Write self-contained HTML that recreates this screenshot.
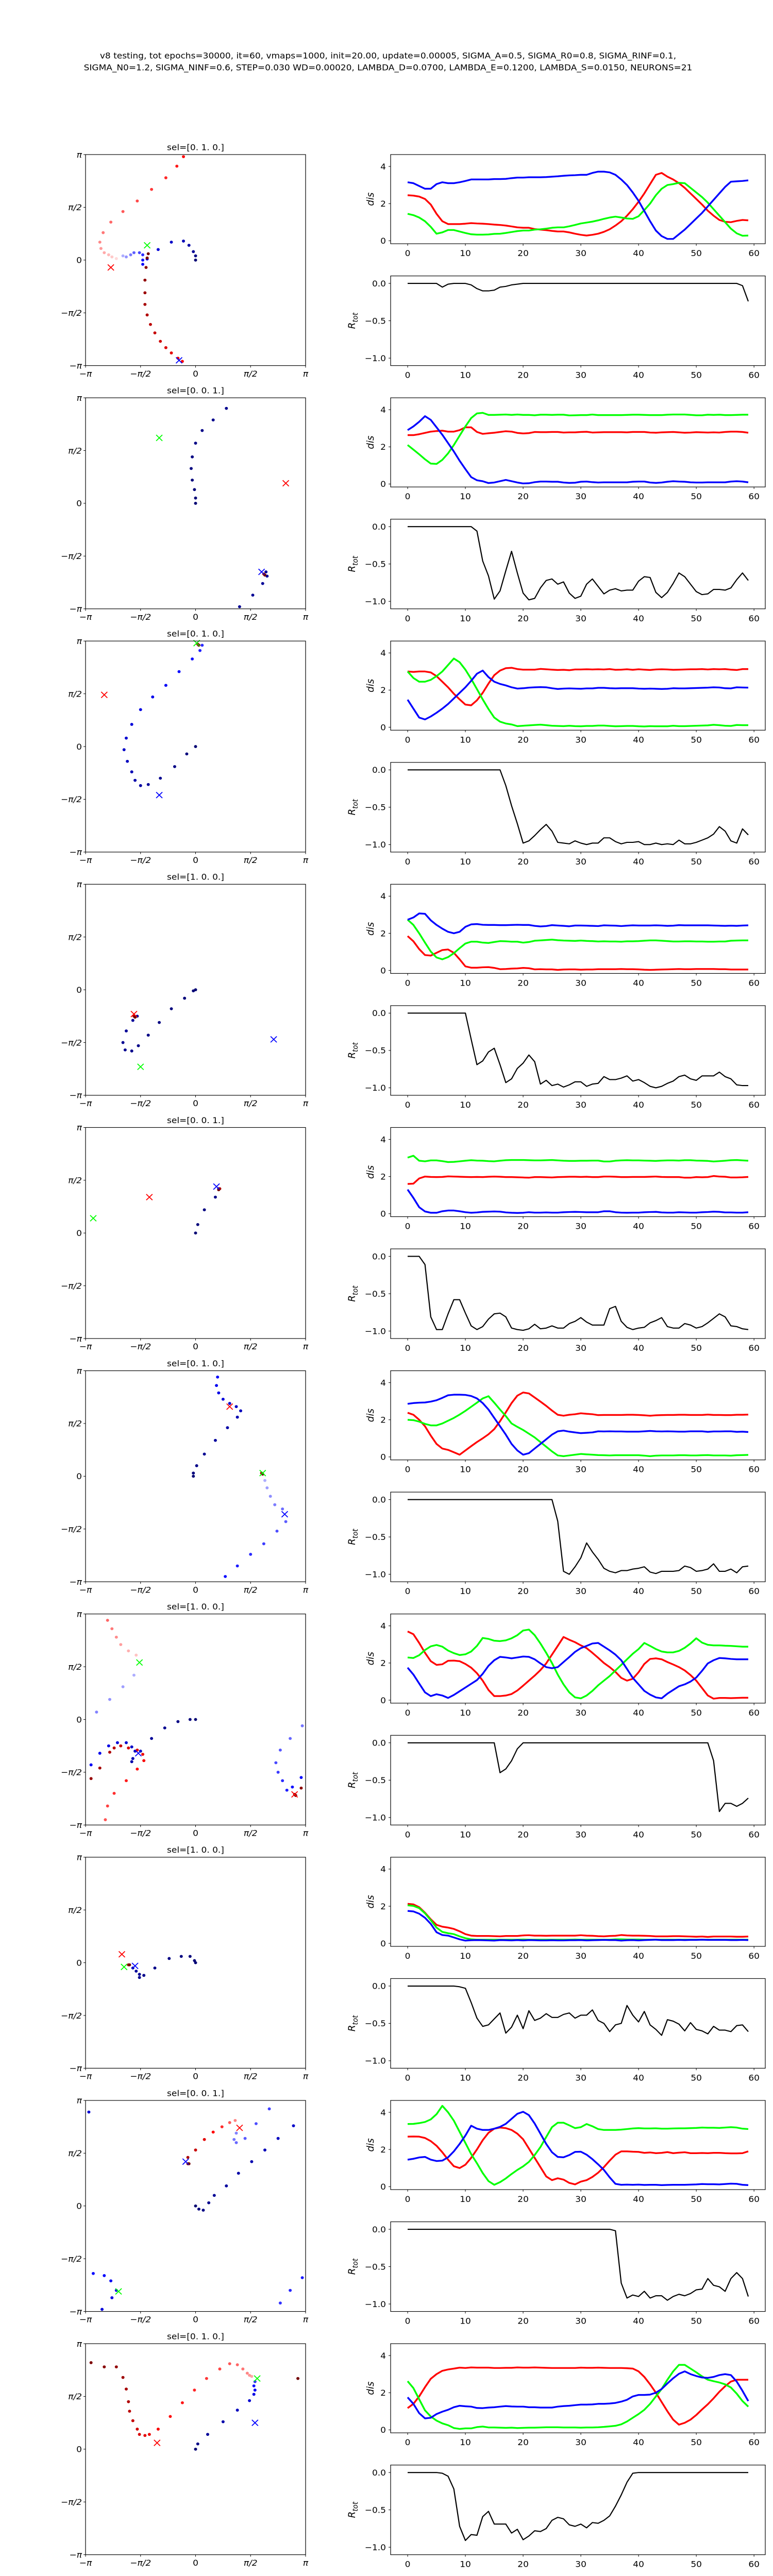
<!DOCTYPE html>
<html><head><meta charset="utf-8"><style>
html,body{margin:0;padding:0;background:#fff;width:100%;height:100%;overflow:hidden;}
svg{display:block;position:fixed;left:0;top:0;width:100%;height:100%;font-family:"DejaVu Sans","Liberation Sans",sans-serif;}
</style></head><body>
<svg id="fig" xmlns="http://www.w3.org/2000/svg" viewBox="0 0 1500 5200" preserveAspectRatio="none">
<rect width="1500" height="5200" fill="#fff"/>
<text x="753" y="118" font-size="17" text-anchor="middle">v8 testing, tot epochs=30000, it=60, vmaps=1000, init=20.00, update=0.00005, SIGMA_A=0.5, SIGMA_R0=0.8, SIGMA_RINF=0.1,</text>
<text x="753" y="142" font-size="17" text-anchor="middle">SIGMA_N0=1.2, SIGMA_NINF=0.6, STEP=0.030 WD=0.00020, LAMBDA_D=0.0700, LAMBDA_E=0.1200, LAMBDA_S=0.0150, NEURONS=21</text>
</svg>
<script>
const selTitles = ["sel=[0. 1. 0.]","sel=[0. 0. 1.]","sel=[0. 1. 0.]","sel=[1. 0. 0.]","sel=[0. 0. 1.]","sel=[0. 1. 0.]","sel=[1. 0. 0.]","sel=[1. 0. 0.]","sel=[0. 0. 1.]","sel=[0. 1. 0.]"];
const xTicks = [0,10,20,30,40,50,60];
const disTicks = [0,2,4];
const rTicks = [0.0,-0.5,-1.0];
const rTickLabels = ["0.0","\u22120.5","\u22121.0"];
const piTicks = [-1,-0.5,0,0.5,1];
const piTickLabels = ["\u2212\u03c0","\u2212\u03c0/2","0","\u03c0/2","\u03c0"];

const disRed = [
[2.45,2.43,2.38,2.25,1.95,1.45,1.05,0.9,0.9,0.9,0.92,0.95,0.93,0.92,0.9,0.87,0.85,0.82,0.77,0.72,0.7,0.7,0.63,0.6,0.57,0.53,0.5,0.5,0.45,0.38,0.32,0.28,0.32,0.38,0.48,0.62,0.82,1.05,1.35,1.7,2.1,2.55,3.05,3.55,3.65,3.45,3.3,3.1,2.85,2.55,2.25,1.95,1.62,1.35,1.12,1.02,1.0,1.07,1.12,1.1],
[2.63,2.63,2.68,2.75,2.82,2.85,2.87,2.82,2.82,2.9,3.05,3.05,2.8,2.7,2.73,2.76,2.8,2.84,2.82,2.75,2.72,2.74,2.8,2.79,2.79,2.8,2.8,2.77,2.78,2.78,2.8,2.81,2.77,2.78,2.79,2.79,2.79,2.79,2.78,2.8,2.8,2.8,2.77,2.76,2.78,2.79,2.8,2.78,2.76,2.77,2.79,2.78,2.77,2.78,2.77,2.8,2.82,2.82,2.8,2.76],
[3.0,2.98,3.0,3.0,2.95,2.75,2.45,2.15,1.8,1.5,1.22,1.18,1.45,1.85,2.35,2.8,3.05,3.18,3.2,3.13,3.1,3.1,3.1,3.14,3.12,3.1,3.08,3.09,3.07,3.11,3.11,3.12,3.11,3.12,3.11,3.13,3.09,3.1,3.12,3.09,3.12,3.1,3.08,3.11,3.12,3.11,3.09,3.1,3.11,3.12,3.12,3.13,3.11,3.13,3.12,3.13,3.1,3.08,3.13,3.13],
[1.85,1.57,1.15,0.83,0.8,0.95,1.1,1.13,0.95,0.6,0.22,0.15,0.15,0.17,0.18,0.14,0.07,0.08,0.1,0.11,0.14,0.12,0.06,0.07,0.06,0.06,0.03,0.05,0.06,0.06,0.04,0.05,0.05,0.07,0.07,0.07,0.07,0.08,0.07,0.07,0.06,0.04,0.03,0.04,0.05,0.06,0.07,0.08,0.07,0.07,0.08,0.08,0.08,0.08,0.07,0.07,0.05,0.05,0.05,0.05],
[1.6,1.62,1.9,2.0,1.98,1.97,1.98,2.01,2.0,1.99,1.98,1.97,1.98,1.97,1.99,2.0,1.99,1.97,1.97,1.96,1.95,1.94,1.97,1.97,1.96,1.95,1.97,1.98,1.99,1.99,1.98,1.99,1.97,1.97,2.0,2.0,1.99,1.97,1.97,1.98,1.98,1.98,1.99,2.0,1.98,1.97,1.97,1.97,1.94,1.94,1.97,1.96,1.97,2.03,2.0,1.99,1.95,1.95,1.96,1.98],
[2.38,2.27,2.0,1.65,1.15,0.7,0.45,0.38,0.25,0.12,0.35,0.58,0.8,1.0,1.22,1.5,1.92,2.4,2.9,3.3,3.47,3.42,3.2,2.98,2.75,2.5,2.27,2.22,2.27,2.3,2.35,2.32,2.3,2.25,2.26,2.26,2.26,2.26,2.27,2.27,2.26,2.24,2.22,2.24,2.25,2.26,2.26,2.27,2.27,2.26,2.26,2.26,2.28,2.26,2.26,2.25,2.25,2.27,2.27,2.28],
[3.7,3.55,3.08,2.55,2.1,1.9,1.93,2.12,2.13,2.1,1.95,1.75,1.45,1.05,0.55,0.22,0.22,0.25,0.33,0.52,0.78,1.05,1.32,1.62,1.98,2.45,2.92,3.4,3.25,3.12,2.95,2.8,2.55,2.28,2.0,1.78,1.52,1.2,1.05,1.15,1.5,1.95,2.22,2.25,2.2,2.05,1.92,1.78,1.6,1.35,1.05,0.65,0.25,0.08,0.12,0.12,0.11,0.12,0.13,0.13],
[2.13,2.1,1.95,1.65,1.3,1.0,0.9,0.85,0.78,0.65,0.5,0.42,0.4,0.4,0.4,0.39,0.38,0.4,0.4,0.4,0.43,0.44,0.42,0.42,0.41,0.42,0.42,0.42,0.42,0.42,0.44,0.42,0.41,0.39,0.38,0.4,0.41,0.45,0.43,0.42,0.42,0.41,0.4,0.38,0.38,0.38,0.39,0.39,0.38,0.37,0.36,0.37,0.35,0.37,0.37,0.37,0.37,0.36,0.36,0.37],
[2.69,2.7,2.69,2.62,2.45,2.2,1.85,1.45,1.1,1.0,1.18,1.55,2.0,2.5,2.9,3.12,3.18,3.15,3.05,2.85,2.55,2.05,1.55,1.05,0.55,0.35,0.45,0.38,0.2,0.12,0.27,0.35,0.52,0.75,1.05,1.4,1.72,1.9,1.9,1.88,1.87,1.82,1.84,1.8,1.82,1.86,1.8,1.83,1.85,1.8,1.8,1.81,1.8,1.82,1.82,1.8,1.79,1.79,1.8,1.9],
[1.17,1.4,1.8,2.3,2.75,3.0,3.18,3.25,3.3,3.35,3.33,3.36,3.35,3.35,3.35,3.33,3.33,3.34,3.34,3.36,3.35,3.35,3.36,3.35,3.34,3.33,3.33,3.33,3.33,3.33,3.35,3.34,3.34,3.35,3.34,3.33,3.33,3.33,3.32,3.3,3.15,2.85,2.45,2.0,1.5,1.0,0.55,0.28,0.38,0.55,0.8,1.1,1.38,1.7,2.05,2.35,2.6,2.7,2.7,2.7]
];
const disGreen = [
[1.45,1.38,1.25,1.05,0.75,0.38,0.45,0.58,0.58,0.5,0.42,0.35,0.33,0.33,0.34,0.37,0.38,0.42,0.47,0.52,0.55,0.55,0.6,0.62,0.65,0.7,0.72,0.72,0.78,0.85,0.93,0.98,1.03,1.1,1.18,1.25,1.3,1.25,1.2,1.18,1.32,1.65,2.0,2.45,2.8,3.0,3.05,3.12,3.1,2.85,2.6,2.35,2.05,1.7,1.35,1.0,0.65,0.4,0.27,0.28],
[2.1,1.85,1.6,1.33,1.1,1.08,1.3,1.65,2.1,2.6,3.1,3.55,3.8,3.83,3.72,3.72,3.73,3.74,3.72,3.74,3.72,3.72,3.7,3.73,3.73,3.72,3.73,3.73,3.69,3.7,3.71,3.71,3.74,3.71,3.71,3.71,3.71,3.71,3.72,3.73,3.73,3.72,3.71,3.71,3.71,3.73,3.74,3.74,3.74,3.72,3.7,3.7,3.73,3.72,3.73,3.71,3.71,3.72,3.73,3.73],
[3.0,2.65,2.45,2.45,2.55,2.75,3.0,3.35,3.7,3.5,3.1,2.6,2.05,1.5,0.98,0.52,0.3,0.2,0.15,0.06,0.08,0.1,0.12,0.14,0.11,0.08,0.07,0.06,0.08,0.06,0.05,0.07,0.07,0.09,0.09,0.07,0.05,0.06,0.07,0.07,0.05,0.04,0.06,0.05,0.05,0.05,0.08,0.06,0.06,0.07,0.08,0.09,0.1,0.13,0.11,0.08,0.07,0.12,0.11,0.11],
[2.73,2.45,2.0,1.5,1.02,0.7,0.6,0.72,0.93,1.2,1.45,1.55,1.55,1.5,1.48,1.53,1.58,1.57,1.55,1.55,1.5,1.53,1.6,1.62,1.64,1.66,1.63,1.61,1.6,1.59,1.61,1.59,1.58,1.56,1.57,1.56,1.56,1.55,1.57,1.57,1.58,1.6,1.62,1.62,1.6,1.58,1.56,1.56,1.57,1.57,1.56,1.56,1.55,1.55,1.56,1.56,1.6,1.61,1.62,1.62],
[3.02,3.12,2.85,2.82,2.87,2.87,2.83,2.78,2.79,2.82,2.85,2.88,2.86,2.85,2.83,2.82,2.85,2.88,2.89,2.89,2.89,2.88,2.87,2.87,2.88,2.89,2.87,2.85,2.84,2.84,2.85,2.85,2.86,2.86,2.81,2.81,2.85,2.87,2.88,2.87,2.87,2.86,2.85,2.84,2.86,2.87,2.87,2.86,2.88,2.88,2.86,2.85,2.84,2.81,2.83,2.85,2.88,2.89,2.87,2.85],
[2.0,1.98,1.9,1.78,1.7,1.7,1.8,1.95,2.1,2.28,2.48,2.7,2.92,3.15,3.27,2.92,2.55,2.2,1.8,1.62,1.45,1.25,1.05,0.8,0.55,0.3,0.08,0.04,0.08,0.12,0.16,0.14,0.12,0.1,0.09,0.08,0.09,0.09,0.09,0.09,0.09,0.07,0.04,0.07,0.08,0.08,0.08,0.09,0.09,0.08,0.08,0.09,0.1,0.08,0.08,0.08,0.07,0.09,0.1,0.11],
[2.3,2.27,2.42,2.7,2.9,2.97,2.88,2.67,2.53,2.43,2.47,2.62,2.92,3.35,3.3,3.2,3.18,3.22,3.33,3.5,3.75,3.8,3.5,3.05,2.55,2.0,1.38,0.85,0.42,0.15,0.1,0.25,0.5,0.8,1.05,1.3,1.6,1.9,2.2,2.5,2.75,3.08,2.92,2.75,2.62,2.57,2.57,2.65,2.82,3.05,3.33,3.1,2.98,2.95,2.95,2.93,2.92,2.9,2.88,2.88],
[2.05,2.02,1.9,1.62,1.25,0.85,0.62,0.55,0.5,0.38,0.28,0.22,0.2,0.2,0.2,0.2,0.2,0.2,0.2,0.2,0.21,0.2,0.2,0.2,0.2,0.2,0.2,0.2,0.2,0.21,0.2,0.2,0.2,0.2,0.2,0.2,0.22,0.22,0.21,0.21,0.21,0.2,0.2,0.2,0.2,0.2,0.2,0.2,0.2,0.2,0.2,0.2,0.2,0.2,0.2,0.2,0.2,0.2,0.2,0.2],
[3.37,3.38,3.42,3.48,3.62,3.9,4.35,4.0,3.55,2.95,2.35,1.75,1.26,0.73,0.3,0.1,0.24,0.44,0.68,0.9,1.09,1.33,1.7,2.13,2.67,3.2,3.44,3.44,3.3,3.15,3.2,3.37,3.25,3.1,3.05,3.05,3.05,3.07,3.1,3.13,3.15,3.13,3.13,3.14,3.12,3.12,3.13,3.14,3.14,3.15,3.16,3.18,3.17,3.17,3.16,3.18,3.2,3.18,3.12,3.1],
[2.62,2.25,1.65,1.05,0.72,0.5,0.35,0.25,0.1,0.05,0.08,0.08,0.15,0.18,0.13,0.13,0.12,0.11,0.12,0.1,0.11,0.12,0.12,0.13,0.14,0.14,0.14,0.13,0.13,0.13,0.12,0.13,0.13,0.14,0.16,0.19,0.22,0.3,0.45,0.65,0.85,1.08,1.4,1.8,2.2,2.7,3.15,3.5,3.5,3.3,3.1,2.88,2.7,2.62,2.55,2.45,2.28,1.95,1.55,1.25]
];
const disBlue = [
[3.15,3.1,2.95,2.8,2.8,3.05,3.15,3.1,3.1,3.15,3.22,3.3,3.3,3.3,3.3,3.32,3.32,3.33,3.37,3.4,3.4,3.42,3.42,3.42,3.43,3.45,3.47,3.5,3.52,3.53,3.55,3.55,3.65,3.72,3.72,3.68,3.55,3.3,3.0,2.6,2.15,1.6,1.05,0.55,0.25,0.1,0.1,0.35,0.6,0.9,1.2,1.5,1.85,2.2,2.55,2.9,3.18,3.2,3.22,3.25],
[2.9,3.1,3.35,3.65,3.45,3.05,2.65,2.2,1.75,1.25,0.8,0.37,0.2,0.15,0.05,0.08,0.15,0.22,0.15,0.08,0.03,0.04,0.1,0.13,0.13,0.12,0.12,0.08,0.06,0.07,0.12,0.13,0.1,0.08,0.09,0.09,0.09,0.09,0.09,0.12,0.13,0.13,0.08,0.06,0.08,0.12,0.15,0.13,0.12,0.09,0.08,0.08,0.09,0.09,0.09,0.09,0.13,0.15,0.13,0.09],
[1.48,1.0,0.52,0.42,0.58,0.78,1.0,1.25,1.55,1.85,2.15,2.5,2.88,3.05,2.7,2.45,2.33,2.25,2.15,2.08,2.1,2.13,2.15,2.16,2.15,2.1,2.06,2.08,2.09,2.08,2.07,2.09,2.09,2.12,2.12,2.1,2.09,2.1,2.1,2.1,2.08,2.07,2.08,2.07,2.06,2.07,2.1,2.09,2.09,2.1,2.11,2.12,2.13,2.15,2.14,2.1,2.09,2.15,2.14,2.13],
[2.73,2.85,3.07,3.05,2.7,2.45,2.25,2.08,2.0,2.08,2.35,2.48,2.5,2.46,2.45,2.45,2.44,2.44,2.45,2.46,2.45,2.45,2.4,2.37,2.39,2.44,2.42,2.4,2.38,2.42,2.42,2.41,2.4,2.39,2.43,2.42,2.41,2.39,2.41,2.43,2.42,2.42,2.42,2.43,2.42,2.4,2.41,2.44,2.43,2.43,2.43,2.43,2.43,2.42,2.41,2.4,2.41,2.4,2.42,2.43],
[1.3,0.85,0.35,0.12,0.05,0.05,0.13,0.17,0.17,0.13,0.08,0.05,0.07,0.1,0.11,0.12,0.11,0.07,0.05,0.04,0.05,0.08,0.06,0.06,0.07,0.06,0.06,0.08,0.09,0.1,0.09,0.08,0.08,0.08,0.13,0.13,0.08,0.06,0.05,0.06,0.06,0.08,0.09,0.1,0.07,0.06,0.06,0.08,0.07,0.06,0.06,0.08,0.09,0.11,0.1,0.07,0.07,0.06,0.06,0.08],
[2.86,2.9,2.92,2.93,2.98,3.05,3.18,3.32,3.35,3.35,3.34,3.28,3.15,2.9,2.55,2.1,1.65,1.2,0.7,0.35,0.12,0.2,0.45,0.7,0.95,1.2,1.38,1.42,1.36,1.32,1.28,1.3,1.32,1.38,1.37,1.38,1.37,1.37,1.36,1.36,1.36,1.38,1.4,1.38,1.37,1.38,1.37,1.36,1.36,1.38,1.38,1.38,1.35,1.37,1.37,1.38,1.38,1.35,1.36,1.34],
[1.75,1.38,0.9,0.42,0.22,0.32,0.25,0.12,0.28,0.48,0.68,0.88,1.08,1.42,1.85,2.15,2.33,2.3,2.25,2.3,2.35,2.33,2.2,1.98,1.78,1.72,1.78,2.05,2.32,2.6,2.8,2.92,3.05,3.08,2.88,2.68,2.45,2.15,1.68,1.2,0.85,0.5,0.3,0.15,0.1,0.35,0.55,0.75,0.85,1.0,1.22,1.58,1.98,2.15,2.27,2.25,2.22,2.2,2.2,2.2],
[1.75,1.72,1.6,1.38,1.05,0.6,0.45,0.42,0.32,0.22,0.15,0.17,0.18,0.17,0.16,0.15,0.18,0.17,0.16,0.18,0.16,0.18,0.17,0.16,0.16,0.17,0.16,0.16,0.17,0.17,0.18,0.16,0.17,0.18,0.19,0.18,0.18,0.15,0.17,0.18,0.16,0.18,0.19,0.2,0.18,0.18,0.18,0.19,0.18,0.19,0.19,0.2,0.19,0.19,0.19,0.19,0.18,0.18,0.19,0.18],
[1.45,1.5,1.57,1.6,1.45,1.38,1.4,1.58,1.9,2.3,2.75,3.28,3.12,3.05,3.05,3.12,3.22,3.38,3.65,3.92,4.03,3.85,3.4,2.85,2.3,1.85,1.6,1.58,1.7,1.87,1.88,1.72,1.48,1.2,0.9,0.5,0.15,0.1,0.11,0.1,0.11,0.09,0.1,0.1,0.08,0.09,0.1,0.1,0.1,0.11,0.12,0.14,0.13,0.13,0.12,0.14,0.16,0.15,0.1,0.08],
[1.75,1.4,0.9,0.62,0.65,0.85,0.98,1.08,1.22,1.3,1.27,1.25,1.18,1.17,1.2,1.22,1.25,1.28,1.26,1.25,1.25,1.22,1.22,1.2,1.2,1.2,1.25,1.28,1.3,1.33,1.36,1.36,1.37,1.4,1.4,1.42,1.45,1.52,1.62,1.8,1.88,1.88,1.9,2.0,2.2,2.5,2.78,3.02,3.15,3.0,2.9,2.82,2.8,2.85,2.95,3.0,2.95,2.6,2.1,1.55]
];
const rTot = [
[0,0,0,0,0,0,-0.05,-0.01,0,0,0,-0.02,-0.07,-0.1,-0.1,-0.09,-0.05,-0.04,-0.02,-0.01,0,0,0,0,0,0,0,0,0,0,0,0,0,0,0,0,0,0,0,0,0,0,0,0,0,0,0,0,0,0,0,0,0,0,0,0,0,0,-0.03,-0.24],
[0,0,0,0,0,0,0,0,0,0,0,0,-0.06,-0.46,-0.66,-0.97,-0.86,-0.59,-0.33,-0.62,-0.89,-0.98,-0.96,-0.82,-0.72,-0.70,-0.77,-0.74,-0.89,-0.96,-0.93,-0.77,-0.70,-0.80,-0.90,-0.85,-0.83,-0.86,-0.85,-0.85,-0.73,-0.67,-0.68,-0.88,-0.95,-0.88,-0.76,-0.62,-0.67,-0.77,-0.87,-0.91,-0.90,-0.84,-0.84,-0.85,-0.82,-0.71,-0.62,-0.72],
[0,0,0,0,0,0,0,0,0,0,0,0,0,0,0,0,0,-0.21,-0.48,-0.72,-0.98,-0.95,-0.88,-0.8,-0.73,-0.82,-0.97,-0.98,-0.99,-0.95,-0.98,-1.0,-0.98,-0.98,-0.91,-0.91,-0.96,-0.99,-0.97,-0.97,-0.96,-1.0,-1.0,-0.98,-1.0,-0.99,-1.0,-0.94,-0.99,-0.99,-0.97,-0.94,-0.91,-0.86,-0.76,-0.82,-0.95,-0.98,-0.79,-0.87],
[0,0,0,0,0,0,0,0,0,0,0,-0.35,-0.69,-0.64,-0.52,-0.47,-0.69,-0.93,-0.88,-0.74,-0.67,-0.56,-0.65,-0.95,-0.9,-0.97,-0.95,-0.99,-0.96,-0.92,-0.92,-0.98,-0.95,-0.94,-0.85,-0.89,-0.89,-0.87,-0.84,-0.91,-0.89,-0.93,-0.98,-1.0,-0.98,-0.94,-0.91,-0.85,-0.83,-0.88,-0.9,-0.84,-0.84,-0.84,-0.79,-0.85,-0.88,-0.96,-0.97,-0.97],
[0,0,0,-0.11,-0.81,-0.98,-0.98,-0.77,-0.58,-0.58,-0.76,-0.93,-0.98,-0.94,-0.84,-0.77,-0.76,-0.81,-0.96,-0.98,-0.99,-0.97,-0.91,-0.97,-0.96,-0.93,-0.96,-0.96,-0.90,-0.87,-0.82,-0.88,-0.92,-0.92,-0.92,-0.70,-0.67,-0.87,-0.95,-0.98,-0.96,-0.95,-0.89,-0.86,-0.82,-0.94,-0.96,-0.96,-0.90,-0.92,-0.96,-0.94,-0.89,-0.83,-0.77,-0.81,-0.93,-0.94,-0.97,-0.98],
[0,0,0,0,0,0,0,0,0,0,0,0,0,0,0,0,0,0,0,0,0,0,0,0,0,0,-0.29,-0.96,-1.0,-0.9,-0.78,-0.58,-0.7,-0.8,-0.92,-0.96,-0.98,-0.95,-0.95,-0.93,-0.92,-0.9,-0.97,-0.99,-0.96,-0.96,-0.96,-0.95,-0.89,-0.91,-0.96,-0.95,-0.93,-0.86,-0.96,-0.96,-0.93,-0.98,-0.9,-0.89],
[0,0,0,0,0,0,0,0,0,0,0,0,0,0,0,0,-0.4,-0.35,-0.24,-0.08,0,0,0,0,0,0,0,0,0,0,0,0,0,0,0,0,0,0,0,0,0,0,0,0,0,0,0,0,0,0,0,0,0,-0.24,-0.92,-0.81,-0.81,-0.85,-0.81,-0.74],
[0,0,0,0,0,0,0,0,0,-0.01,-0.03,-0.22,-0.43,-0.54,-0.52,-0.44,-0.36,-0.63,-0.55,-0.39,-0.57,-0.33,-0.46,-0.43,-0.37,-0.42,-0.42,-0.38,-0.36,-0.43,-0.39,-0.39,-0.32,-0.46,-0.5,-0.61,-0.52,-0.5,-0.26,-0.39,-0.48,-0.34,-0.52,-0.58,-0.66,-0.45,-0.47,-0.51,-0.6,-0.49,-0.58,-0.6,-0.64,-0.54,-0.59,-0.59,-0.61,-0.53,-0.52,-0.61],
[0,0,0,0,0,0,0,0,0,0,0,0,0,0,0,0,0,0,0,0,0,0,0,0,0,0,0,0,0,0,0,0,0,0,0,0,-0.02,-0.72,-0.92,-0.88,-0.9,-0.83,-0.92,-0.89,-0.89,-0.95,-0.9,-0.87,-0.89,-0.86,-0.81,-0.8,-0.66,-0.75,-0.77,-0.83,-0.66,-0.58,-0.66,-0.9],
[0,0,0,0,0,0,-0.01,-0.05,-0.22,-0.72,-0.91,-0.83,-0.84,-0.59,-0.52,-0.69,-0.69,-0.69,-0.81,-0.76,-0.9,-0.85,-0.78,-0.79,-0.75,-0.64,-0.6,-0.62,-0.7,-0.72,-0.69,-0.74,-0.67,-0.68,-0.64,-0.58,-0.45,-0.3,-0.13,-0.01,0,0,0,0,0,0,0,0,0,0,0,0,0,0,0,0,0,0,0,0]
];
const scatRedX = [
[-0.72,-0.76,-0.79,-0.83,-0.86,-0.87,-0.84,-0.77,-0.66,-0.53,-0.40,-0.27,-0.17,-0.11,-0.12,-0.16,-0.22,-0.27,-0.32,-0.37,-0.41,-0.44,-0.46,-0.46,-0.46,-0.45,-0.44,-0.43],
[0.62,0.63],
[0.02,0.03],
[-0.56,-0.55],
[0.22,0.21],
[0.60,0.61],
[-0.54,-0.61,-0.68,-0.72,-0.76,-0.80,-0.82,-0.80,-0.74,-0.63,-0.53,-0.47,-0.48,-0.53,-0.61,-0.68,-0.74,-0.78,-0.87,-0.95,0.96,0.91,0.90],
[-0.61,-0.60],
[0.36,0.31,0.24,0.16,0.08,0.0,-0.07,-0.07,-0.06],
[0.51,0.49,0.47,0.43,0.38,0.31,0.22,0.10,-0.01,-0.12,-0.23,-0.34,-0.42,-0.46,-0.51,-0.53,-0.57,-0.60,-0.61,-0.63,-0.66,-0.72,-0.83,-0.95,0.93]
];
const scatRedY = [
[0.014,0.03,0.05,0.07,0.11,0.17,0.26,0.36,0.46,0.56,0.67,0.78,0.89,0.98,-0.96,-0.93,-0.88,-0.83,-0.77,-0.69,-0.61,-0.52,-0.42,-0.31,-0.19,-0.07,0.02,0.06],
[-0.67,-0.68],
[0.97,0.96],
[-0.25,-0.26],
[0.42,0.41],
[0.03,0.02],
[0.61,0.65,0.71,0.78,0.86,0.94,-0.95,-0.82,-0.70,-0.58,-0.47,-0.39,-0.33,-0.29,-0.27,-0.25,-0.27,-0.31,-0.46,-0.56,-0.65,-0.72,-0.71],
[-0.02,-0.02],
[0.81,0.79,0.75,0.70,0.63,0.53,0.46,0.40,0.40],
[0.69,0.70,0.72,0.76,0.80,0.81,0.76,0.67,0.56,0.44,0.31,0.19,0.14,0.13,0.14,0.19,0.27,0.36,0.45,0.57,0.68,0.78,0.78,0.82,0.67,0.54]
];
const scatBlueX = [
[-0.66,-0.63,-0.59,-0.56,-0.51,-0.48,-0.48,-0.48,-0.44,-0.34,-0.22,-0.11,-0.06,-0.02,0.0,0.0],
[0.65,0.64,0.61,0.52,0.40,0.28,0.16,0.06,0.0,-0.03,-0.04,-0.03,-0.01,0.0,0.0],
[0.06,0.04,-0.03,-0.15,-0.27,-0.39,-0.50,-0.58,-0.63,-0.65,-0.62,-0.58,-0.55,-0.50,-0.43,-0.32,-0.19,-0.08,0.0],
[-0.53,-0.57,-0.63,-0.66,-0.64,-0.58,-0.52,-0.43,-0.33,-0.22,-0.10,-0.02,0.0],
[0.21,0.18,0.08,0.02,0.0],
[0.63,0.65,0.68,0.72,0.79,0.82,0.74,0.62,0.50,0.38,0.27,0.20,0.19,0.21,0.25,0.31,0.37,0.41,0.38,0.29,0.18,0.08,0.01,-0.02,-0.02],
[-0.56,-0.66,-0.78,-0.90,0.97,0.86,0.77,0.73,0.75,0.79,0.83,0.88,0.96,-0.95,-0.87,-0.79,-0.71,-0.63,-0.58,-0.55,-0.57,-0.58,-0.50,-0.40,-0.28,-0.16,-0.05,0.0],
[-0.57,-0.54,-0.51,-0.51,-0.47,-0.37,-0.24,-0.13,-0.05,-0.01,0.0],
[0.37,0.35,0.37,0.45,0.55,0.67,0.77,0.86,0.97,-0.93,-0.83,-0.77,-0.72,-0.76,-0.85,-0.97,0.89,0.75,0.63,0.51,0.39,0.28,0.17,0.12,0.07,0.03,0.0],
[0.54,0.53,0.54,0.53,0.49,0.38,0.25,0.11,0.02,0.0]
];
const scatBlueY = [
[0.04,0.03,0.05,0.07,0.07,0.05,0.0,-0.04,0.01,0.10,0.17,0.18,0.14,0.08,0.04,0.0],
[-0.69,-0.65,-0.76,-0.87,-0.98,0.90,0.79,0.69,0.57,0.44,0.33,0.22,0.13,0.05,0.0],
[0.96,0.91,0.83,0.71,0.58,0.47,0.35,0.21,0.08,-0.03,-0.14,-0.24,-0.32,-0.37,-0.36,-0.30,-0.19,-0.07,0.0],
[-0.25,-0.29,-0.39,-0.50,-0.57,-0.58,-0.53,-0.43,-0.31,-0.18,-0.08,-0.01,0.0],
[0.42,0.34,0.22,0.08,0.0],
[-0.04,-0.11,-0.19,-0.27,-0.31,-0.43,-0.52,-0.64,-0.74,-0.85,-0.95,0.94,0.86,0.79,0.73,0.69,0.66,0.62,0.56,0.46,0.34,0.21,0.10,0.03,0.0],
[0.42,0.31,0.19,0.07,-0.06,-0.18,-0.29,-0.41,-0.50,-0.58,-0.67,-0.64,-0.55,-0.43,-0.32,-0.25,-0.22,-0.22,-0.26,-0.30,-0.37,-0.40,-0.30,-0.18,-0.08,-0.02,0.0,0.0],
[-0.05,-0.08,-0.11,-0.14,-0.12,-0.05,0.04,0.06,0.06,0.02,0.0],
[0.69,0.63,0.60,0.64,0.78,0.92,-0.92,-0.80,-0.68,-0.64,-0.66,-0.71,-0.80,-0.87,-0.98,0.89,0.76,0.64,0.53,0.42,0.31,0.19,0.10,0.03,-0.04,-0.03,0.0],
[0.64,0.60,0.56,0.52,0.46,0.37,0.26,0.14,0.05,0.0]
];
const redStart = [0,0.8,0.8,0.8,0.8,0.8,0.05,0.85,0.2,0.12];
const blueStart = [0.1,0.85,0.4,0.85,0.9,0.1,0.1,0.85,0.2,0.4];
const crossRedXY = [[-0.77,-0.07],[0.82,0.19],[-0.83,0.49],[-0.56,-0.23],[-0.42,0.34],[0.31,0.66],[0.90,-0.71],[-0.67,0.08],[0.40,0.74],[-0.35,0.06]];
const crossGreenXY = [[-0.44,0.14],[-0.33,0.62],[0.01,0.98],[-0.50,-0.73],[-0.93,0.14],[0.61,0.03],[-0.51,0.54],[-0.65,-0.04],[-0.70,-0.81],[0.56,0.67]];
const crossBlueXY = [[-0.15,-0.95],[0.60,-0.65],[-0.33,-0.46],[0.71,-0.47],[0.19,0.44],[0.81,-0.36],[-0.52,-0.32],[-0.55,-0.03],[-0.09,0.42],[0.54,0.25]];

const NS = "http://www.w3.org/2000/svg";
const fig = document.getElementById('fig');
function mk(tag, attrs, parent){ const e=document.createElementNS(NS,tag); for(const k in attrs) e.setAttribute(k,attrs[k]); (parent||fig).appendChild(e); return e; }
function lerp(a,b,t){return a+(b-a)*t;}
function shade(kind,t){
  let c;
  if(kind==='r'){ c = t<0.5 ? [1,lerp(0.85,0,t*2),lerp(0.85,0,t*2)] : [lerp(1,0.45,(t-0.5)*2),0,0]; }
  else { c = t<0.5 ? [lerp(0.85,0,t*2),lerp(0.85,0,t*2),1] : [0,0,lerp(1,0.45,(t-0.5)*2)]; }
  return 'rgb('+c.map(v=>Math.round(v*255)).join(',')+')';
}
const ROW0=312, ROWH=491;
const SL=166, SW=427, SH=426;
const DL=758, DW=727, DH=180, RT_OFF=245, RH=181;
const XMIN=-2.95, XMAX=61.95, DMIN=-0.16, DMAX=4.64, RMIN=-1.1, RMAX=0.1;

for(let r=0;r<10;r++){
  const top = ROW0 + r*ROWH;
  const sg = mk('g',{});
  
  
  const sx = v => SL + (v+1)/2*SW;
  const sy = v => top + SH - (v+1)/2*SH;
  const st = mk('text',{x:SL+SW/2,y:top-9,'font-size':17,'text-anchor':'middle'},sg);
  st.textContent = selTitles[r];
  
  
  piTicks.forEach((v,i)=>{
    const tx=mk('line',{x1:sx(v),x2:sx(v),y1:top+SH,y2:top+SH+4,stroke:'#000','stroke-width':1},sg);
    
    
    const lx=mk('text',{x:sx(v),y:top+SH+22,'font-size':17,'text-anchor':'middle','font-style':v===0?'normal':'italic'},sg);
    lx.textContent=piTickLabels[i];
    
    
    const ty=mk('line',{x1:SL-4,x2:SL,y1:sy(v),y2:sy(v),stroke:'#000','stroke-width':1},sg);
    
    
    const ly=mk('text',{x:SL-7,y:sy(v)+6,'font-size':17,'text-anchor':'end','font-style':v===0?'normal':'italic'},sg);
    ly.textContent=piTickLabels[i];
    
    
  });
  const drawSeries=(xs,ys,kind,t0,name)=>{
    const n=xs.length;
    for(let i=0;i<n;i++){
      const t = n>1 ? t0+(1-t0)*i/(n-1) : 1;
      const d=mk('circle',{cx:sx(xs[i]),cy:sy(ys[i]),r:3,fill:shade(kind,t)},sg);
      
      
    }
  };
  drawSeries(scatBlueX[r],scatBlueY[r],'b',blueStart[r],'blue-neuron-dot');
  drawSeries(scatRedX[r],scatRedY[r],'r',redStart[r],'red-neuron-dot');
  const cross=(p,col,name)=>{
    const cx=sx(p[0]), cy=sy(p[1]), s=6;
    const g=mk('g',{stroke:col,'stroke-width':1.8},sg);
    
    
    mk('line',{x1:cx-s,y1:cy-s,x2:cx+s,y2:cy+s},g);
    mk('line',{x1:cx-s,y1:cy+s,x2:cx+s,y2:cy-s},g);
  };
  cross(crossRedXY[r],'#ff0000','red-target-cross');
  cross(crossGreenXY[r],'#00ff00','green-target-cross');
  cross(crossBlueXY[r],'#0000ff','blue-target-cross');
  const sf=mk('rect',{x:SL,y:top,width:SW,height:SH,fill:'none',stroke:'#000','stroke-width':1.2},sg);
  
  

  const dg = mk('g',{});
  
  
  const px = v => DL + (v-XMIN)/(XMAX-XMIN)*DW;
  const dy = v => top + DH - (v-DMIN)/(DMAX-DMIN)*DH;
  const xAxis=(g,bottom)=>{
    xTicks.forEach(v=>{
      const t=mk('line',{x1:px(v),x2:px(v),y1:bottom,y2:bottom+4,stroke:'#000','stroke-width':1},g);
      
      
      const l=mk('text',{x:px(v),y:bottom+25,'font-size':17,'text-anchor':'middle'},g);
      l.textContent=String(v);
      
      
    });
  };
  xAxis(dg, top+DH);
  disTicks.forEach(v=>{
    const t=mk('line',{x1:DL-4,x2:DL,y1:dy(v),y2:dy(v),stroke:'#000','stroke-width':1},dg);
    
    
    const l=mk('text',{x:DL-9,y:dy(v)+6,'font-size':17,'text-anchor':'end'},dg);
    l.textContent=String(v);
    
    
  });
  const dl=mk('text',{x:0,y:0,'font-size':19,'font-style':'italic','text-anchor':'middle',transform:'translate(725,'+(top+DH/2)+') rotate(-90)'},dg);
  dl.textContent='dis';
  
  
  const line=(g,vals,ymap,col,w,name)=>{
    const pts=vals.map((v,i)=>px(i).toFixed(1)+','+ymap(v).toFixed(1)).join(' ');
    const p=mk('polyline',{points:pts,fill:'none',stroke:col,'stroke-width':w,'stroke-linejoin':'round','stroke-linecap':'butt'},g);
    
    
  };
  line(dg,disRed[r],dy,'#ff0000',3.5,'dis-red-line');
  line(dg,disGreen[r],dy,'#00ff00',3.5,'dis-green-line');
  line(dg,disBlue[r],dy,'#0000ff',3.5,'dis-blue-line');
  const df=mk('rect',{x:DL,y:top,width:DW,height:DH,fill:'none',stroke:'#000','stroke-width':1.2},dg);
  
  

  const rtop = top + RT_OFF;
  const rg = mk('g',{});
  
  
  const ry = v => rtop + RH - (v-RMIN)/(RMAX-RMIN)*RH;
  xAxis(rg, rtop+RH);
  rTicks.forEach((v,i)=>{
    const t=mk('line',{x1:DL-4,x2:DL,y1:ry(v),y2:ry(v),stroke:'#000','stroke-width':1},rg);
    
    
    const l=mk('text',{x:DL-9,y:ry(v)+6,'font-size':17,'text-anchor':'end'},rg);
    l.textContent=rTickLabels[i];
    
    
  });
  const rl=mk('text',{x:0,y:0,'font-size':19,'font-style':'italic','text-anchor':'middle',transform:'translate(689,'+(rtop+RH/2)+') rotate(-90)'},rg);
  
  
  const t1=mk('tspan',{},rl); t1.textContent='R';
  const t2=mk('tspan',{dy:5,'font-size':14},rl); t2.textContent='tot';
  line(rg,rTot[r],ry,'#000000',2.2,'rtot-line');
  const rf=mk('rect',{x:DL,y:rtop,width:DW,height:RH,fill:'none',stroke:'#000','stroke-width':1.2},rg);
  
  
}
</script>
</body></html>
